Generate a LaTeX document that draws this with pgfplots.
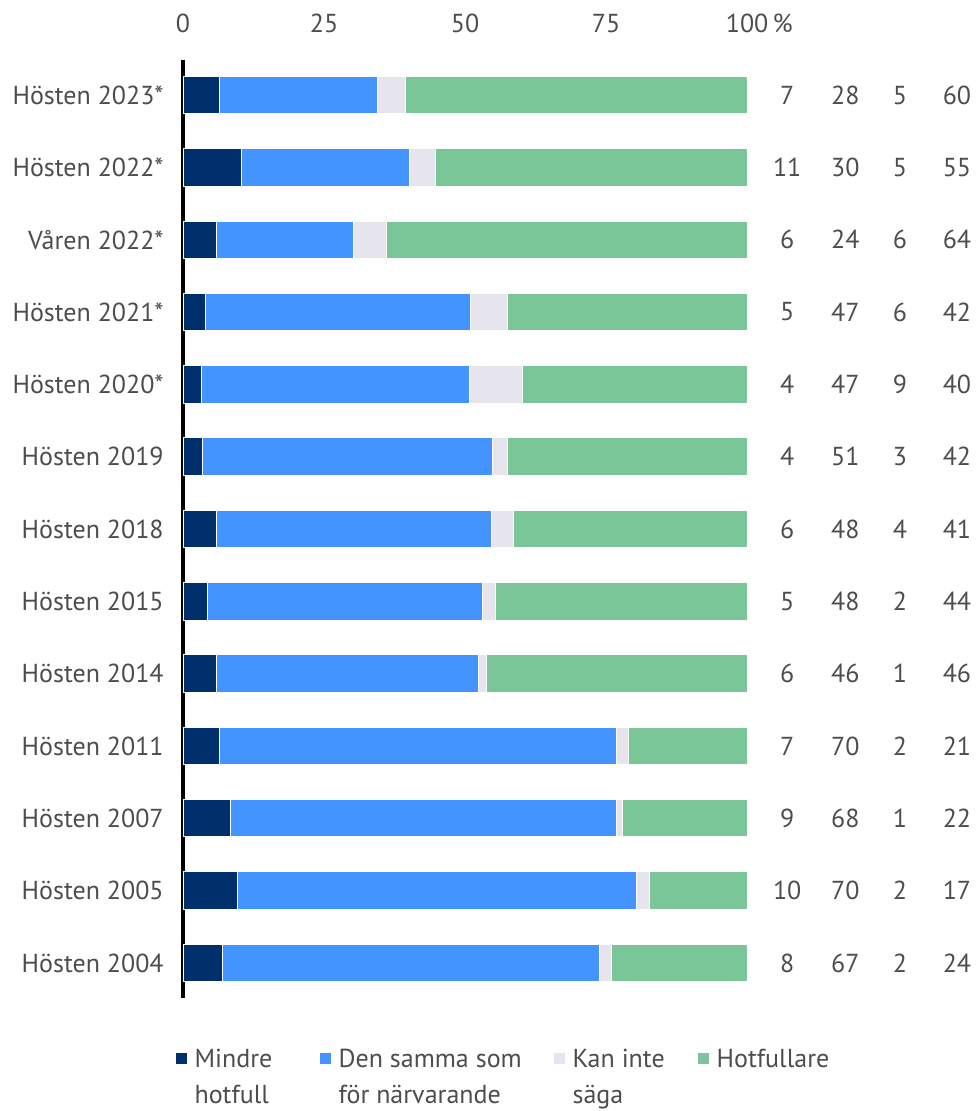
\documentclass[border=0pt]{standalone}
\usepackage{fontspec}
\setmainfont{PT Sans}
\usepackage{pgfplots}
\usepackage{pgfplotstable}
\pgfplotsset{compat=1.18}

\definecolor{cDark}{HTML}{00306C}
\definecolor{cBlue}{HTML}{4394FE}
\definecolor{cGray}{HTML}{E6E4EC}
\definecolor{cGreen}{HTML}{7BC698}
\definecolor{txt}{HTML}{4D4D4D}

% bar segments, printed values on the right
\pgfplotstableread[col sep=comma]{
y,label,a,b,c,d,na,nb,nc,nd
0,Hösten 2023*,6.5,28.0,5.0,60.5,7,28,5,60
1,Hösten 2022*,10.4,29.7,4.6,55.3,11,30,5,55
2,Våren 2022*,5.9,24.3,5.8,64.0,6,24,6,64
3,Hösten 2021*,3.9,47.1,6.5,42.5,5,47,6,42
4,Hösten 2020*,3.2,47.5,9.4,39.9,4,47,9,40
5,Hösten 2019,3.4,51.4,2.8,42.4,4,51,3,42
6,Hösten 2018,5.9,48.7,4.0,41.4,6,48,4,41
7,Hösten 2015,4.4,48.6,2.4,44.6,5,48,2,44
8,Hösten 2014,5.9,46.5,1.4,46.2,6,46,1,46
9,Hösten 2011,6.5,70.3,2.2,21.0,7,70,2,21
10,Hösten 2007,8.4,68.4,1.1,22.1,9,68,1,22
11,Hösten 2005,9.7,70.6,2.4,17.3,10,70,2,17
12,Hösten 2004,7.0,66.8,2.1,24.1,8,67,2,24
}\data

\tikzset{lbl/.style={font=\fontsize{13bp}{16bp}\selectfont, text=txt}}
\pgfplotsset{
  legsq/.style={legend image code/.code={\fill[##1,draw=none] (0bp,-7.5bp) rectangle (5.5bp,-2bp);}},
}

\begin{document}
\begin{tikzpicture}
\begin{axis}[
  name=main,
  scale only axis, width=282bp, height=468.9bp,
  xbar stacked, bar width=18.7bp,
  xmin=0, xmax=100, ymin=-0.485, ymax=12.485, y dir=reverse,
  axis x line*=top, axis y line*=left,
  x axis line style={draw=none},
  y axis line style={line width=1.6bp, black, -},
  xtick={0,25,50,75,100},
  xticklabels={0,25,50,75,100\rlap{\,\%}},
  ytick={0,...,12},
  yticklabels from table={\data}{label},
  major tick length=0pt,
  tick label style={lbl},
  xticklabel style={anchor=base, yshift=14bp},
  yticklabel style={anchor=east, inner sep=0pt, xshift=-9.5bp},
  legend columns=4,
  legend style={at={(-0.014,-0.054)}, anchor=north west, draw=none, fill=none,
    inner sep=0pt, nodes={inner sep=0pt, anchor=base west},
    /tikz/every odd column/.append style={column sep=4bp},
    /tikz/every even column/.append style={column sep=0bp}},
  clip=false,
]
\addplot[fill=cDark, draw=white, line width=0.5bp, legsq] table[x=a, y=y] {\data};
\addlegendentry{\parbox[t]{62.5bp}{\fontsize{13bp}{18bp}\selectfont\color{txt}Mindre\\hotfull}}
\addplot[fill=cBlue, draw=white, line width=0.5bp, legsq] table[x=b, y=y] {\data};
\addlegendentry{\parbox[t]{107.5bp}{\fontsize{13bp}{18bp}\selectfont\color{txt}Den samma som\\för närvarande}}
\addplot[fill=cGray, draw=white, line width=0.5bp, legsq] table[x=c, y=y] {\data};
\addlegendentry{\parbox[t]{62.5bp}{\fontsize{13bp}{18bp}\selectfont\color{txt}Kan inte\\säga}}
\addplot[fill=cGreen, draw=white, line width=0.5bp, legsq] table[x=d, y=y] {\data};
\addlegendentry{\parbox[t]{60bp}{\fontsize{13bp}{18bp}\selectfont\color{txt}Hotfullare}}
\end{axis}

\begin{axis}[
  at={(main.south west)}, anchor=south west,
  scale only axis, width=282bp, height=468.9bp,
  xmin=0, xmax=100, ymin=-0.485, ymax=12.485, y dir=reverse,
  hide axis, clip=false,
  nodes near coords, point meta=explicit symbolic,
  every node near coord/.append style={anchor=center, lbl},
]
\addplot[draw=none, mark=none] table[x expr=107.1, y=y, meta=na] {\data};
\addplot[draw=none, mark=none] table[x expr=117.4, y=y, meta=nb] {\data};
\addplot[draw=none, mark=none] table[x expr=127.1, y=y, meta=nc] {\data};
\addplot[draw=none, mark=none] table[x expr=137.2, y=y, meta=nd] {\data};
\end{axis}

\path ([xshift=-91.5bp, yshift=-56.5bp]main.south west) rectangle ([xshift=115.5bp, yshift=30bp]main.north east);
\end{tikzpicture}
\end{document}
